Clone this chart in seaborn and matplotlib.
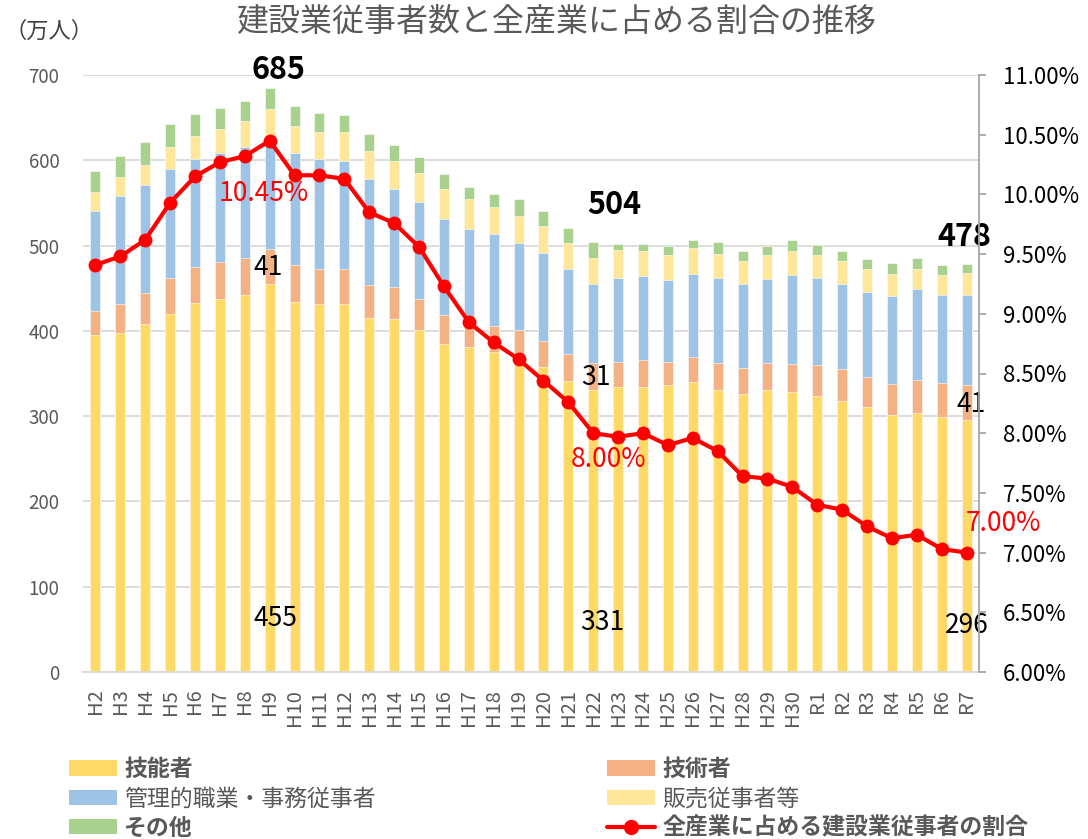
import numpy as np
import pandas as pd
import matplotlib
matplotlib.use("Agg")
import matplotlib.pyplot as plt
from matplotlib.patches import Patch
from matplotlib.lines import Line2D
from matplotlib.ticker import FuncFormatter, MultipleLocator, FixedLocator
import seaborn as sns

# ---------------- data ----------------
years = [f"H{i}" for i in range(2, 31)] + [f"R{i}" for i in range(1, 8)]
skilled = [395, 398, 408, 420, 433, 437, 442, 455, 434, 431, 431, 415, 414, 401, 385, 381, 375, 365,
           358, 341, 331, 334, 334, 337, 340, 331, 326, 331, 328, 324, 318, 311, 301, 304, 299, 296]
engineers = [28, 33, 36, 42, 42, 44, 43, 41, 43, 42, 42, 39, 37, 36, 34, 26, 31, 36,
             30, 32, 31, 30, 32, 27, 29, 31, 31, 31, 33, 36, 37, 35, 37, 38, 40, 41]
admin = [118, 127, 127, 128, 127, 127, 131, 132, 131, 128, 126, 124, 115, 114, 112, 113, 107, 102,
         103, 100, 93, 98, 98, 96, 98, 100, 98, 99, 104, 102, 100, 100, 103, 107, 103, 105]
sales = [22, 22, 24, 25, 27, 29, 30, 32, 32, 32, 34, 33, 33, 34, 35, 35, 32, 32,
         32, 30, 30, 33, 30, 29, 30, 28, 27, 28, 29, 27, 27, 27, 26, 24, 23, 26]
other = [24, 25, 27, 27, 25, 24, 24, 25, 24, 23, 20, 20, 19, 19, 18, 14, 15, 20,
         18, 18, 19, 7, 8, 10, 10, 14, 12, 10, 12, 12, 12, 11, 12, 12, 12, 10]
share = [9.41, 9.48, 9.62, 9.93, 10.15, 10.27, 10.32, 10.45, 10.16, 10.16, 10.13, 9.85, 9.76, 9.56,
         9.23, 8.93, 8.76, 8.62, 8.44, 8.26, 8.00, 7.97, 8.00, 7.90, 7.96, 7.85, 7.64, 7.62, 7.55,
         7.40, 7.36, 7.22, 7.12, 7.15, 7.03, 7.00]

series_names = ["技能者", "技術者", "管理的職業・事務従事者", "販売従事者等", "その他"]
series_vals = [skilled, engineers, admin, sales, other]
colors = ["#FFD966", "#F4B183", "#9DC3E6", "#FFE699", "#A9D18E"]
line_name = "全産業に占める建設業従事者の割合"

# ---------------- style ----------------
sns.set_style("white")
plt.rcParams["font.family"] = ["Noto Sans CJK JP", "DejaVu Sans"]
GRAY = "#595959"

fig = plt.figure(figsize=(10.88, 8.39), dpi=100)
ax = fig.add_axes([83 / 1088, 1 - 672 / 839, (979 - 83) / 1088, (672 - 75) / 839])

df = pd.DataFrame({"year": years})
cum = np.zeros(len(years))
cums = []
for v in series_vals:
    cum = cum + np.array(v)
    cums.append(cum.copy())
df_c = df.copy()
# draw from top layer downwards so lower layers overlay
for name, c, col in reversed(list(zip(series_names, cums, colors))):
    df_c[name] = c
    sns.barplot(data=df_c, x="year", y=name, order=years, color=col, saturation=1,
                width=0.4, ax=ax, edgecolor="white", linewidth=0.4)

ax.set_xlim(-0.5, len(years) - 0.5)
ax.set_ylim(0, 700)
ax.yaxis.set_major_locator(MultipleLocator(100))
ax.grid(axis="y", color="#D9D9D9", linewidth=1.3)
ax.grid(axis="x", visible=False)
ax.set_axisbelow(True)
ax.set_xlabel("")
ax.set_ylabel("")
for s in ["left", "top", "right"]:
    ax.spines[s].set_visible(False)
ax.spines["bottom"].set_color("#D9D9D9")
ax.spines["bottom"].set_linewidth(1.3)
ax.tick_params(axis="y", length=0, labelsize=13.5, labelcolor=GRAY, pad=17)
ax.tick_params(axis="x", which="major", length=0, labelsize=14.5, labelcolor=GRAY, pad=12,
               labelrotation=90)
ax.xaxis.set_minor_locator(FixedLocator(np.arange(-0.5, len(years), 1.0)))
ax.tick_params(axis="x", which="minor", length=5, color="#D9D9D9", width=1.3)

# line on secondary axis
ax2 = ax.twinx()
sns.lineplot(x=np.arange(len(years)), y=share, ax=ax2, color="#FF0000", linewidth=3,
             marker="o", markersize=10, markeredgecolor="#FF0000", markeredgewidth=0)
ax2.set_ylim(6, 11)
ax2.yaxis.set_major_locator(MultipleLocator(0.5))
ax2.yaxis.set_major_formatter(FuncFormatter(lambda v, p: f"{v:.2f}%"))
ax2.grid(False)
for s in ["left", "top", "bottom"]:
    ax2.spines[s].set_visible(False)
ax2.spines["right"].set_color("#A6A6A6")
ax2.spines["right"].set_linewidth(1.3)
ax2.tick_params(axis="y", length=5, color="#A6A6A6", width=1.3, labelsize=16,
                labelcolor="#000000", pad=12)
ax2.set_ylabel("")
ax2.set_xlim(-0.5, len(years) - 0.5)

# ---------------- annotations ----------------
i9, i22, i7r = years.index("H9"), years.index("H22"), years.index("R7")
tot = cums[-1]
bold_kw = dict(fontsize=22, fontweight="bold", color="black", ha="center", va="center")
ax.text(i9 + 0.36, tot[i9] + 21, f"{int(tot[i9])}", **bold_kw)
ax.text(i22 + 0.84, tot[i22] + 44, f"{int(tot[i22])}", **bold_kw)
ax.text(i7r - 0.1, tot[i7r] + 32, f"{int(tot[i7r])}", **bold_kw)

num_kw = dict(fontsize=19, color="black", ha="center", va="center")
ax.text(i9 - 0.05, skilled[i9] + 19, f"{engineers[i9]}", **num_kw)
ax.text(i9 + 0.25, 63, f"{skilled[i9]}", **num_kw)
ax.text(i22 + 0.1, skilled[i22] + 14, f"{engineers[i22]}", **num_kw)
ax.text(i22 + 0.35, 58, f"{skilled[i22]}", **num_kw)
ax.text(i7r + 0.2, skilled[i7r] + 18, f"{engineers[i7r]}", **num_kw)
ax.text(i7r + 0.0, 55, f"{skilled[i7r]}", **num_kw)

pct_kw = dict(fontsize=19, color="#FF0000", ha="center", va="center")
ax2.text(i9 - 0.25, share[i9] - 0.44, f"{share[i9]:.2f}%", **pct_kw)
ax2.text(i22 + 0.6, share[i22] - 0.22, f"{share[i22]:.2f}%", **pct_kw)
ax2.text(i7r + 1.5, share[i7r] + 0.24, f"{share[i7r]:.2f}%", **pct_kw)

# ---------------- titles ----------------
fig.text(557 / 1088, 1 - 22 / 839, "建設業従事者数と全産業に占める割合の推移", fontsize=23,
         color=GRAY, ha="center", va="center")
fig.text(4 / 1088, 1 - 31 / 839, "（万人）", fontsize=16, color="#404040", ha="left", va="center")

# ---------------- legend ----------------
patches = [Patch(facecolor=c, edgecolor="none", label=n) for n, c in zip(series_names, colors)]
line_h = Line2D([0], [0], color="#FF0000", linewidth=3, marker="o", markersize=10, label=line_name)
handles = [patches[0], patches[2], patches[4], patches[1], patches[3], line_h]
leg = fig.legend(handles=handles, loc="upper left", bbox_to_anchor=(69 / 1088, 1 - 758 / 839),
                 ncol=2, frameon=False, fontsize=16.5, handlelength=2.1, handleheight=0.65,
                 handletextpad=0.3, columnspacing=10.1, labelspacing=0.28, borderpad=0,
                 borderaxespad=0)
bold_labels = {"技能者", "技術者", "その他", line_name}
for t in leg.get_texts():
    t.set_color(GRAY)
    if t.get_text() in bold_labels:
        t.set_fontweight("bold")

fig.savefig("out.png", dpi=100)
